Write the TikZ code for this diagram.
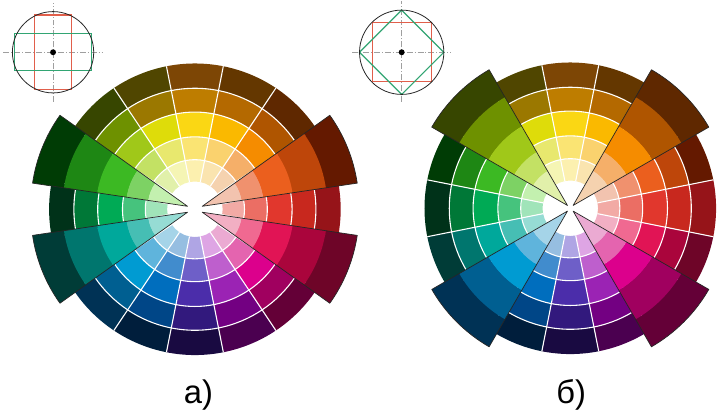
\documentclass[tikz,border=0pt]{standalone}
\usepackage{fontspec}
\setmainfont{Liberation Sans}

% tones of one hue: a = outer ring (darkest) ... e = inner ring (palest)
\newcommand\defhue[6]{%
  \definecolor{#1a}{RGB}{#2}\definecolor{#1b}{RGB}{#3}%
  \definecolor{#1c}{RGB}{#4}\definecolor{#1d}{RGB}{#5}%
  \definecolor{#1e}{RGB}{#6}}
\defhue{h0}{150,20,25}{200,40,30}{225,55,45}{235,110,100}{242,170,165}   % 0
\defhue{h1}{100,25,0}{190,70,10}{235,95,30}{240,145,110}{242,195,175}    % 22.5
\defhue{h2}{95,40,0}{175,85,0}{245,140,0}{245,175,105}{245,210,175}      % 45
\defhue{h3}{100,55,0}{180,105,0}{250,185,0}{250,210,110}{250,228,175}    % 67.5
\defhue{h4}{125,70,5}{190,125,0}{250,215,20}{250,228,115}{252,240,175}   % 90
\defhue{h5}{80,70,0}{155,120,0}{222,220,10}{232,232,110}{245,245,180}    % 112.5
\defhue{h6}{55,70,0}{110,145,0}{160,200,25}{195,225,100}{225,240,170}    % 135
\defhue{h7}{0,60,5}{30,135,20}{60,185,35}{125,210,100}{195,240,175}      % 157.5
\defhue{h8}{0,50,25}{0,120,55}{0,170,85}{70,195,125}{160,228,185}        % 180
\defhue{h9}{0,60,55}{0,118,110}{0,168,155}{70,190,180}{150,220,212}      % 202.5
\defhue{h10}{0,50,85}{0,95,145}{0,155,210}{95,180,220}{165,212,232}      % 225
\defhue{h11}{0,30,60}{0,70,135}{0,110,190}{65,140,205}{150,190,225}      % 247.5
\defhue{h12}{25,10,65}{50,25,125}{75,45,170}{110,95,200}{175,165,228}    % 270
\defhue{h13}{75,0,80}{115,0,130}{155,35,180}{190,95,205}{222,165,228}    % 292.5
\defhue{h14}{100,0,55}{160,0,95}{220,0,140}{228,100,175}{235,170,210}    % 315
\defhue{h15}{110,5,40}{170,5,60}{225,20,85}{240,105,145}{242,175,195}    % 337.5
\definecolor{iconred}{RGB}{225,95,75}
\definecolor{icongreen}{RGB}{50,165,115}

% 16 hues x 5 rings, white seams
\newcommand\colorwheel{%
  \foreach \k in {0,...,15}{%
    \foreach \t/\ri/\ro in {a/122/147,b/98/122,c/73/98,d/50/73,e/28/50}{%
      \fill[fill=h\k\t] ({\k*22.5-11.25}:\ri) arc[start angle={\k*22.5-11.25}, delta angle=22.5, radius=\ri]
        -- ({\k*22.5+11.25}:\ro) arc[start angle={\k*22.5+11.25}, delta angle=-22.5, radius=\ro] -- cycle;
    }%
  }%
  \foreach \r in {50,73,98,122} \draw[whiteline] (0,0) circle[radius=\r];
  \foreach \k in {0,...,15} \draw[whiteline] ({\k*22.5+11.25}:28) -- ({\k*22.5+11.25}:147);
}
% one hue pulled out of the wheel: #1 hue, #2 angle, #3 offset, #4 half width
\newcommand\pulledwedge[4]{%
  \begin{scope}[shift={(#2:#3)}]
    \foreach \t/\ri/\ro in {a/126/158,b/92/126,c/62/92,d/40/62,e/0.1/40}{%
      \fill[fill=h#1\t] ({#2-#4}:\ri) arc[start angle={#2-#4}, delta angle={2*#4}, radius=\ri]
        -- ({#2+#4}:\ro) arc[start angle={#2+#4}, delta angle={-2*#4}, radius=\ro] -- cycle;
    }
    \draw[wedgeline] (0,0) -- ({#2-#4}:158) arc[start angle={#2-#4}, delta angle={2*#4}, radius=158] -- cycle;
  \end{scope}}

\begin{document}
\begin{tikzpicture}[x=1pt, y=1pt,
    whiteline/.style={draw=white, line width=1.1pt},
    wedgeline/.style={draw=black!85, line width=0.7pt, line join=round},
    axisline/.style={draw=gray!75, line width=0.6pt, dash pattern=on 6pt off 2pt on 1pt off 2pt},
    ringline/.style={draw=black!85, line width=0.8pt},
    redframe/.style={draw=iconred, line width=1.2pt},
    greenframe/.style={draw=icongreen, line width=1.2pt},
    caption/.style={font=\fontsize{33}{36}\selectfont, inner sep=0pt, anchor=base},
]
\fill[white] (0,0) rectangle (717,414);

% --- wheel a) : four hues pulled out near the horizontal ------------
\coordinate (wheelA) at (196.5,203);
\begin{scope}[shift={(wheelA)}]
  \colorwheel
  \pulledwedge{1}{22}{8}{13.5}
  \pulledwedge{15}{-22}{8}{13.5}
  \pulledwedge{7}{158}{8}{13.5}
  \pulledwedge{9}{202}{8}{13.5}
\end{scope}

% --- wheel b) : four hues pulled out on the diagonals ---------------
\coordinate (wheelB) at (575,204);
\begin{scope}[shift={(wheelB)}]
  \colorwheel
  \pulledwedge{2}{45}{4}{15}
  \pulledwedge{6}{135}{4}{15}
  \pulledwedge{10}{225}{4}{15}
  \pulledwedge{14}{315}{4}{15}
\end{scope}

% --- small schemes --------------------------------------------------
\coordinate (iconA) at (53.5,361.3);
\begin{scope}[shift={(iconA)}]
  \draw[axisline] (-50,0) -- (50,0);
  \draw[axisline] (0,-50) -- (0,50);
  \draw[redframe] (-18.8,-37.5) rectangle (18.8,37.5);
  \draw[greenframe] (-39,-18.7) rectangle (39,18.7);
  \draw[ringline] (0,0) circle[radius=41];
  \fill (0,0) circle[radius=3];
\end{scope}

\coordinate (iconB) at (405,361.3);
\begin{scope}[shift={(iconB)}]
  \draw[axisline] (-50,0) -- (50,0);
  \draw[axisline] (0,-50) -- (0,52);
  \draw[redframe] (-29.7,-29.7) rectangle (29.7,29.7);
  \draw[greenframe] (0,42.5) -- (42.5,0) -- (0,-42.5) -- (-42.5,0) -- cycle;
  \draw[ringline] (0,0) circle[radius=42.5];
  \fill (0,0) circle[radius=3];
\end{scope}

% --- captions -------------------------------------------------------
\node[caption] (capA) at (200,7) {а)};
\node[caption] (capB) at (576,7) {б)};
\end{tikzpicture}
\end{document}
